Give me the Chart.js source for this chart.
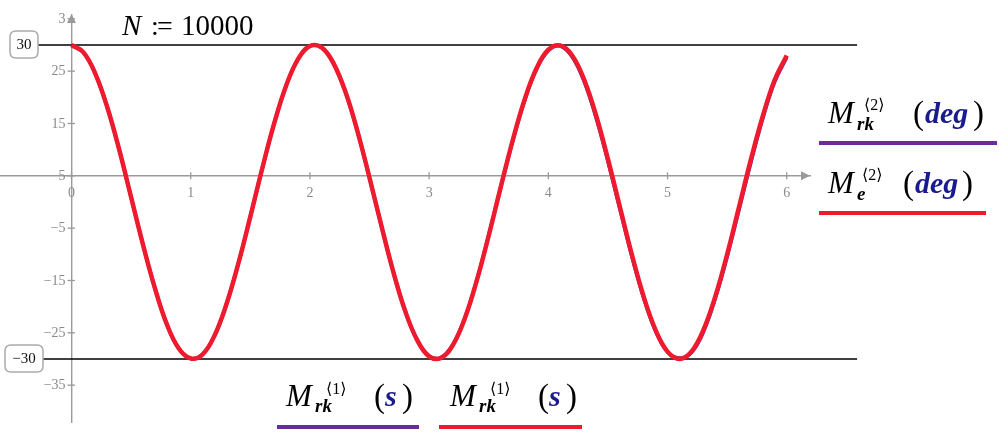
<!DOCTYPE html>
<html><head><meta charset="utf-8">
<script src="https://cdn.jsdelivr.net/npm/chart.js@4/dist/chart.umd.min.js"></script>
<style>html,body{margin:0;padding:0;background:#fff;overflow:hidden}</style>
</head><body>
<canvas id="c" width="999" height="438"></canvas>
<script>
// ---- data ----
const timeValues = [0,0.1,0.2,0.3,0.4,0.5,0.6,0.7,0.8,0.9,1.0,1.1,1.2,1.3,1.4,1.5,1.6,1.7,1.8,1.9,2.0,2.1,2.2,2.3,2.4,2.5,2.6,2.7,2.8,2.9,3.0,3.1,3.2,3.3,3.4,3.5,3.6,3.7,3.8,3.9,4.0,4.1,4.2,4.3,4.4,4.5,4.6,4.7,4.8,4.9,5.0,5.1,5.2,5.3,5.4,5.5,5.6,5.7,5.8,5.9,6.0];
const meDeg = [30,28.6,24.5,18.1,10.0,0.9,-8.2,-16.5,-23.4,-28.0,-29.9,-29.1,-25.5,-19.5,-11.7,-2.8,6.4,15.0,22.2,27.3,29.8,29.5,26.4,20.9,13.4,4.6,-4.6,-13.4,-20.9,-26.4,-29.5,-29.8,-27.3,-22.2,-15.0,-6.4,2.8,11.7,19.5,25.5,29.1,29.9,28.0,23.4,16.6,8.2,-0.9,-10.0,-18.1,-24.5,-28.6,-30,-28.6,-24.5,-18.1,-10.0,-0.9,8.2,16.5,23.4,28.0];
const mrkDeg = [30,28.6,24.5,18.1,10.0,0.9,-8.2,-16.5,-23.4,-28.0,-29.9,-29.1,-25.5,-19.5,-11.7,-2.8,6.4,15.0,22.2,27.3,29.8,29.5,26.4,20.9,13.4,4.6,-4.6,-13.4,-20.9,-26.4,-29.4,-29.7,-27.2,-22.1,-14.9,-6.3,2.7,11.5,19.3,25.3,28.9,29.8,27.7,23.0,16.1,7.7,-1.4,-10.4,-18.4,-24.7,-28.7,-29.8,-28.8,-24.9,-18.5,-10.5,-1.5,7.6,16.0,23.0,27.6];
const markerValues = [30, -30];
const markerLabels = ['30', '\u221230'];
const xTickValues = [0,1,2,3,4,5,6];
const yTickValues = [-35,-25,-15,-5,5,15,25,35];
const yTickLabels = ['\u221235','\u221225','\u221215','\u22125','5','15','25','3'];
const markerSpan = [-0.28, 6.59];
const titleText = ['N', ':', '=', '10000'];

const toPts = (ys) => timeValues.map((t, i) => ({x: t, y: ys[i]}));
const RED = '#ee1b2f', PURPLE = '#6a2c9c', NAVY = '#1a1a90', AXIS = '#9a9a9a', TICK = '#8a8a8a';
const SERIF = '"Liberation Serif", "DejaVu Serif", serif';

function rr(ctx, x, y, w, h, r) {
  ctx.beginPath();
  ctx.moveTo(x + r, y); ctx.lineTo(x + w - r, y); ctx.quadraticCurveTo(x + w, y, x + w, y + r);
  ctx.lineTo(x + w, y + h - r); ctx.quadraticCurveTo(x + w, y + h, x + w - r, y + h);
  ctx.lineTo(x + r, y + h); ctx.quadraticCurveTo(x, y + h, x, y + h - r);
  ctx.lineTo(x, y + r); ctx.quadraticCurveTo(x, y, x + r, y); ctx.closePath();
}
function txt(ctx, t, x, y, font, color) {
  ctx.font = font; ctx.fillStyle = color || '#000';
  ctx.textAlign = 'left'; ctx.textBaseline = 'alphabetic';
  ctx.fillText(t, x, y);
}
function line(ctx, x1, y1, x2, y2, color, w) {
  ctx.beginPath(); ctx.moveTo(x1, y1); ctx.lineTo(x2, y2);
  ctx.strokeStyle = color; ctx.lineWidth = w; ctx.stroke();
}

const decor = {
  id: 'decor',
  beforeDatasetsDraw(chart) {
    const ctx = chart.ctx, xs = chart.scales.x, ys = chart.scales.y, a = chart.chartArea;
    const ax = xs.getPixelForValue(0), ay = ys.getPixelForValue(5);
    ctx.save();
    // tick marks crossing the axes
    xTickValues.forEach(v => { const p = xs.getPixelForValue(v); line(ctx, p, ay - 3.5, p, ay + 3.5, AXIS, 1.3); });
    yTickValues.forEach(v => { const p = ys.getPixelForValue(v); line(ctx, ax - 4, p, ax + 3.5, p, AXIS, 1.3); });
    // y tick labels
    ctx.font = '14px ' + SERIF; ctx.fillStyle = TICK; ctx.textAlign = 'right'; ctx.textBaseline = 'middle';
    ys.ticks.forEach(t => {
      const i = yTickValues.indexOf(t.value);
      if (i >= 0) ctx.fillText(yTickLabels[i], ax - 6, ys.getPixelForValue(t.value) + 0.5);
    });
    // arrow heads
    ctx.fillStyle = AXIS;
    ctx.beginPath(); ctx.moveTo(a.right, ay); ctx.lineTo(a.right - 9, ay - 4.5); ctx.lineTo(a.right - 9, ay + 4.5); ctx.closePath(); ctx.fill();
    ctx.beginPath(); ctx.moveTo(ax, a.top - 1); ctx.lineTo(ax - 4.5, a.top + 8); ctx.lineTo(ax + 4.5, a.top + 8); ctx.closePath(); ctx.fill();
    ctx.restore();
  },
  afterDraw(chart) {
    const ctx = chart.ctx, ys = chart.scales.y;
    ctx.save();
    // boxed marker labels
    const boxes = [[10, 28], [5, 38]];
    markerValues.forEach((v, i) => {
      const py = ys.getPixelForValue(v);
      const [bx, bw] = boxes[i];
      rr(ctx, bx, py - 14, bw, 27, 6);
      ctx.fillStyle = '#fff'; ctx.fill();
      ctx.strokeStyle = '#aaaaaa'; ctx.lineWidth = 1.5; ctx.stroke();
      ctx.font = '15px ' + SERIF; ctx.fillStyle = '#111'; ctx.textAlign = 'center'; ctx.textBaseline = 'middle';
      ctx.fillText(markerLabels[i], bx + bw / 2, py);
    });
    // title N := 10000
    txt(ctx, titleText[0], 122, 35, 'italic 29px ' + SERIF);
    txt(ctx, titleText[1], 151, 35, '28px ' + SERIF);
    txt(ctx, titleText[2], 157, 35, '28px ' + SERIF);
    txt(ctx, titleText[3], 181, 35, '29px ' + SERIF);

    const MF = 'italic 31px ' + SERIF, SUB = 'italic bold 19px ' + SERIF, SUP = '16px ' + SERIF,
          PAR = '33px ' + SERIF, UNIT = 'italic bold 30px ' + SERIF;
    // right legend 1
    txt(ctx, 'M', 828, 123, MF); txt(ctx, 'rk', 857, 130, SUB); txt(ctx, '\u27E82\u27E9', 864, 110, SUP);
    txt(ctx, '(', 913, 124, PAR); txt(ctx, 'deg', 925, 123, UNIT, NAVY); txt(ctx, ')', 973, 124, PAR);
    line(ctx, 819, 143, 997, 143, PURPLE, 4);
    // right legend 2
    txt(ctx, 'M', 828, 193, MF); txt(ctx, 'e', 857, 200, SUB); txt(ctx, '\u27E82\u27E9', 862, 180, SUP);
    txt(ctx, '(', 903, 194, PAR); txt(ctx, 'deg', 915, 193, UNIT, NAVY); txt(ctx, ')', 962, 194, PAR);
    line(ctx, 819, 213, 986, 213, RED, 4);
    // bottom legends
    [[286, PURPLE, 277, 419], [450, RED, 439, 582]].forEach(([x0, col, l1, l2]) => {
      txt(ctx, 'M', x0, 406, MF); txt(ctx, 'rk', x0 + 29, 412, SUB); txt(ctx, '\u27E81\u27E9', x0 + 40, 394, SUP);
      txt(ctx, '(', x0 + 88, 407, PAR); txt(ctx, 's', x0 + 99, 406, UNIT, NAVY); txt(ctx, ')', x0 + 116, 407, PAR);
      line(ctx, l1, 427, l2, 427, col, 4);
    });
    ctx.restore();
  }
};

new Chart(document.getElementById('c'), {
  type: 'line',
  data: {
    datasets: [
      { label: 'Me', data: toPts(meDeg), borderColor: RED, borderWidth: 4.5, pointRadius: 0, tension: 0.4, fill: false },
      { label: 'Mrk', data: toPts(mrkDeg), borderColor: PURPLE, borderWidth: 3.5, pointRadius: 0, tension: 0.4, fill: false },
      { label: 'm30', data: markerSpan.map(x => ({x, y: markerValues[0]})), borderColor: '#000', borderWidth: 1.5, pointRadius: 0, clip: false },
      { label: 'm-30', data: markerSpan.map(x => ({x, y: markerValues[1]})), borderColor: '#000', borderWidth: 1.5, pointRadius: 0, clip: false }
    ]
  },
  options: {
    responsive: false, animation: false, devicePixelRatio: 1,
    layout: { padding: { left: 0, right: 189, top: 15, bottom: 16 } },
    plugins: { legend: { display: false }, tooltip: { enabled: false } },
    scales: {
      x: {
        type: 'linear', min: -0.6, max: 6.195, position: { y: 5 },
        grid: { display: false }, border: { display: true, color: AXIS, width: 1.4 },
        afterBuildTicks: s => { s.ticks = xTickValues.map(v => ({ value: v })); },
        ticks: { color: TICK, font: { family: SERIF, size: 14 }, padding: 1, maxRotation: 0, autoSkip: false }
      },
      y: {
        type: 'linear', min: -42.04, max: 35.73, position: { x: 0 },
        grid: { display: false }, border: { display: true, color: AXIS, width: 1.4 },
        afterBuildTicks: s => { s.ticks = yTickValues.map(v => ({ value: v })); },
        ticks: { display: false, autoSkip: false }
      }
    }
  },
  plugins: [decor]
});
</script>
</body></html>
